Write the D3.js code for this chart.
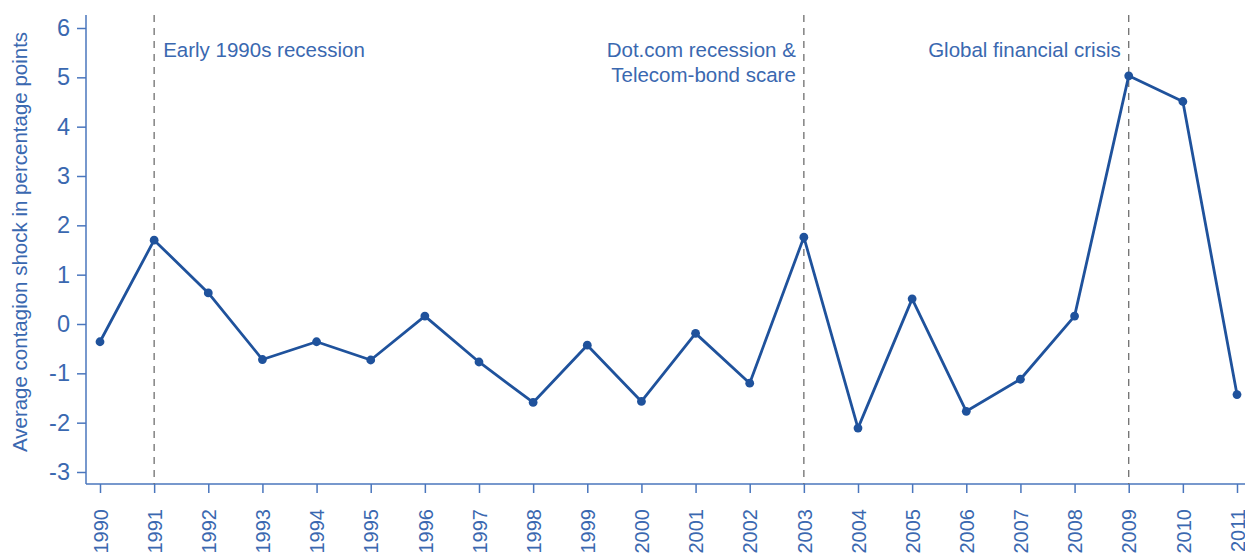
<!DOCTYPE html>
<html lang='en'>
<head>
  <meta charset='UTF-8'>
  <title>Average contagion shock</title>
  <style>
  body { margin: 0; background: white; }
  svg { font-family: 'Liberation Sans', Arial, sans-serif; }
  .axis path { display: none; }
  .axis line { stroke: #4a76bd; stroke-width: 1.5px; }
  .axis text { fill: #3a68b0; }
  .note { fill: #3a68b0; font-size: 20.5px; }
  .title { fill: #3a68b0; font-size: 20.5px; }
  </style>
  <script src='https://d3js.org/d3.v7.min.js'></script>
</head>
<body>
  <script>

  var years = [1990, 1991, 1992, 1993, 1994, 1995, 1996, 1997, 1998, 1999, 2000,
               2001, 2002, 2003, 2004, 2005, 2006, 2007, 2008, 2009, 2010, 2011];
  var shock = [-0.36, 1.70, 0.63, -0.72, -0.36, -0.73, 0.16, -0.77, -1.59, -0.43, -1.57,
               -0.19, -1.20, 1.76, -2.11, 0.51, -1.77, -1.12, 0.16, 5.03, 4.51, -1.43];
  var yTicks = [-3, -2, -1, 0, 1, 2, 3, 4, 5, 6];
  var crisisYears = [1991, 2003, 2009];
  var crisisLabels = [['Early 1990s recession'], ['Dot.com recession &', 'Telecom-bond scare'], ['Global financial crisis']];

  var svgWidth = 1245;
  var svgHeight = 555;
  var axisX = 86;
  var axisY = 484;

  var svg = d3.select('body').append('svg')
    .attr('width', svgWidth)
    .attr('height', svgHeight);

  var x = d3.scaleLinear().domain([1990, 2011]).range([100, 1237]);
  var y = d3.scaleLinear().domain([-3, 6]).range([472, 28]);

  // axes

  svg.append('g')
    .attr('class', 'axis')
    .attr('transform', 'translate(' + axisX + ',0)')
    .call(d3.axisLeft(y).tickValues(yTicks).tickSize(9).tickPadding(7)
      .tickFormat(function (d) { return d; }))
    .selectAll('text')
    .style('font-size', '23.5px');

  var xAxis = svg.append('g')
    .attr('class', 'axis')
    .attr('transform', 'translate(0,' + axisY + ')')
    .call(d3.axisBottom(x).tickValues(years).tickSize(9).tickFormat(d3.format('d')));

  xAxis.selectAll('text')
    .style('font-size', '20px')
    .attr('text-anchor', 'end')
    .attr('transform', 'rotate(-90)')
    .attr('x', -25)
    .attr('y', 0)
    .attr('dy', '0.36em');

  svg.append('line')
    .attr('x1', axisX).attr('x2', axisX)
    .attr('y1', 15).attr('y2', axisY)
    .attr('stroke', '#4a76bd').attr('stroke-width', 1.5);

  svg.append('line')
    .attr('x1', axisX).attr('x2', svgWidth)
    .attr('y1', axisY).attr('y2', axisY)
    .attr('stroke', '#4a76bd').attr('stroke-width', 1.5);

  svg.append('text')
    .attr('class', 'title')
    .attr('text-anchor', 'middle')
    .attr('transform', 'translate(27,242) rotate(-90)')
    .text('Average contagion shock in percentage points');

  // crisis markers

  svg.selectAll('.crisis')
    .data(crisisYears)
    .enter()
    .append('line')
    .attr('class', 'crisis')
    .attr('x1', function (d) { return x(d); })
    .attr('x2', function (d) { return x(d); })
    .attr('y1', 15)
    .attr('y2', axisY)
    .attr('stroke', '#6e6e6e')
    .attr('stroke-width', 1.3)
    .attr('stroke-dasharray', '7,6');

  crisisYears.forEach(function (yr, i) {
    var left = i === 0;
    var t = svg.append('text')
      .attr('class', 'note')
      .attr('text-anchor', left ? 'start' : 'end')
      .attr('x', left ? x(yr) + 9 : x(yr) - 8)
      .attr('y', 57);
    crisisLabels[i].forEach(function (s, j) {
      t.append('tspan')
        .attr('x', left ? x(yr) + 9 : x(yr) - 8)
        .attr('dy', j === 0 ? 0 : 25)
        .text(s);
    });
  });

  // series

  var line = d3.line()
    .x(function (d, i) { return x(years[i]); })
    .y(function (d) { return y(d); });

  svg.append('path')
    .datum(shock)
    .attr('fill', 'none')
    .attr('stroke', '#1f529c')
    .attr('stroke-width', 2.8)
    .attr('stroke-linejoin', 'round')
    .attr('d', line);

  svg.selectAll('.dot')
    .data(shock)
    .enter()
    .append('circle')
    .attr('class', 'dot')
    .attr('cx', function (d, i) { return x(years[i]); })
    .attr('cy', function (d) { return y(d); })
    .attr('r', 4.4)
    .attr('fill', '#1f529c');
  </script>
</body>
</html>
